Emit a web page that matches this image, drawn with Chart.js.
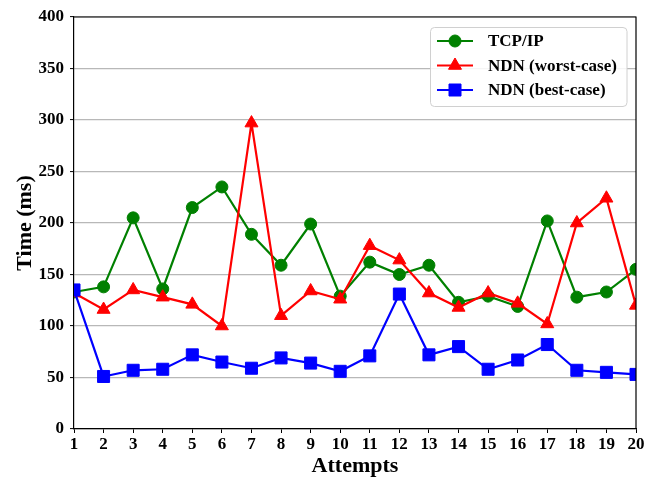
<!DOCTYPE html>
<html>
<head>
<meta charset="utf-8">
<script src="https://cdn.jsdelivr.net/npm/chart.js@4.4.0/dist/chart.umd.min.js"></script>
<style>
  html, body { margin: 0; padding: 0; background: #ffffff; }
  #wrap { width: 656px; height: 477px; position: relative; }
</style>
</head>
<body>
<div id="wrap"><canvas id="chart" width="656" height="477"></canvas></div>
<script>
// Attempt numbers along the x axis
const attempts = ['1','2','3','4','5','6','7','8','9','10','11','12','13','14','15','16','17','18','19','20'];

// Response times in ms
const tcpIp = [133, 138, 205, 136, 215, 235, 189, 159, 199, 129, 162, 150, 159, 123, 129, 119, 202, 128, 133, 155];
const ndnWorst = [132, 116, 135, 128, 121, 100, 297, 110, 134, 126, 178, 164, 132, 118, 132, 122, 102, 200, 224, 120];
const ndnBest = [135, 51, 57, 58, 72, 65, 59, 69, 64, 56, 71, 131, 72, 80, 58, 67, 82, 57, 55, 53];

// Y axis range
const yMin = 0, yMax = 400, yStep = 50;

const SERIF = '"Liberation Serif", "Times New Roman", serif';

function drawMarker(ctx, style, x, y, color) {
  ctx.save();
  ctx.fillStyle = color;
  ctx.strokeStyle = color;
  ctx.lineWidth = 1;
  ctx.beginPath();
  if (style === 'circle') {
    ctx.arc(x, y, 6, 0, Math.PI * 2);
  } else if (style === 'triangle') {
    const r = 7.5;
    ctx.moveTo(x, y - r);
    ctx.lineTo(x + r * Math.sin(2 * Math.PI / 3), y + r / 2);
    ctx.lineTo(x - r * Math.sin(2 * Math.PI / 3), y + r / 2);
    ctx.closePath();
  } else {
    ctx.rect(x - 6, y - 6, 12, 12);
  }
  ctx.fill();
  ctx.stroke();
  ctx.restore();
}

// Top/right frame lines and the boxed legend
const framePlugin = {
  id: 'frame',
  afterDatasetsDraw(chart) {
    const { ctx, chartArea: a } = chart;
    ctx.save();
    ctx.strokeStyle = '#000000';
    ctx.lineWidth = 1.2;
    ctx.beginPath();
    ctx.moveTo(a.left, a.top);
    ctx.lineTo(a.right, a.top);
    ctx.lineTo(a.right, a.bottom);
    ctx.stroke();
    ctx.restore();
  },
  afterDraw(chart) {
    const { ctx } = chart;
    const bx = 430.5, by = 27.5, bw = 196.5, bh = 79, r = 4;
    ctx.save();
    ctx.beginPath();
    ctx.moveTo(bx + r, by);
    ctx.lineTo(bx + bw - r, by);
    ctx.quadraticCurveTo(bx + bw, by, bx + bw, by + r);
    ctx.lineTo(bx + bw, by + bh - r);
    ctx.quadraticCurveTo(bx + bw, by + bh, bx + bw - r, by + bh);
    ctx.lineTo(bx + r, by + bh);
    ctx.quadraticCurveTo(bx, by + bh, bx, by + bh - r);
    ctx.lineTo(bx, by + r);
    ctx.quadraticCurveTo(bx, by, bx + r, by);
    ctx.closePath();
    ctx.fillStyle = 'rgba(255,255,255,0.85)';
    ctx.fill();
    ctx.strokeStyle = '#d0d0d0';
    ctx.lineWidth = 1;
    ctx.stroke();

    const rows = [41, 65.5, 90];
    const order = [0, 1, 2];
    order.forEach((di, i) => {
      const ds = chart.data.datasets[di];
      const y = rows[i];
      ctx.strokeStyle = ds.borderColor;
      ctx.lineWidth = 2.2;
      ctx.beginPath();
      ctx.moveTo(437, y);
      ctx.lineTo(473, y);
      ctx.stroke();
      drawMarker(ctx, ds.pointStyle, 455, y, ds.borderColor);
      ctx.fillStyle = '#000000';
      ctx.font = 'bold 17px ' + SERIF;
      ctx.textAlign = 'left';
      ctx.textBaseline = 'middle';
      ctx.fillText(ds.label, 488, y + 1);
    });
    ctx.restore();
  }
};

const common = {
  borderWidth: 2.2,
  pointBorderWidth: 1,
  tension: 0,
  fill: false,
  clip: 0
};

new Chart(document.getElementById('chart'), {
  type: 'line',
  data: {
    labels: attempts,
    datasets: [
      Object.assign({
        label: 'TCP/IP', data: tcpIp,
        borderColor: '#008000', backgroundColor: '#008000',
        pointStyle: 'circle', pointRadius: 6, pointHoverRadius: 6, order: 3
      }, common),
      Object.assign({
        label: 'NDN (worst-case)', data: ndnWorst,
        borderColor: '#ff0000', backgroundColor: '#ff0000',
        pointStyle: 'triangle', pointRadius: 7.5, pointHoverRadius: 7.5, order: 2
      }, common),
      Object.assign({
        label: 'NDN (best-case)', data: ndnBest,
        borderColor: '#0000ff', backgroundColor: '#0000ff',
        pointStyle: 'rect', pointRadius: 8.5, pointHoverRadius: 8.5, order: 1
      }, common)
    ]
  },
  options: {
    responsive: false,
    animation: false,
    devicePixelRatio: 1,
    layout: { padding: { top: 17, right: 20, left: 0, bottom: 0 } },
    plugins: {
      legend: { display: false },
      tooltip: { enabled: false }
    },
    scales: {
      x: {
        type: 'category',
        offset: false,
        grid: {
          drawOnChartArea: false,
          drawTicks: true,
          tickLength: 4,
          tickColor: '#000000',
          tickWidth: 1
        },
        border: { color: '#000000', width: 1.2 },
        ticks: {
          color: '#000000',
          font: { family: SERIF, size: 17, weight: 'bold' },
          padding: 1,
          maxRotation: 0,
          autoSkip: false
        },
        title: {
          display: true,
          text: 'Attempts',
          color: '#000000',
          font: { family: SERIF, size: 22, weight: 'bold' },
          padding: { top: 0, bottom: -3 }
        },
        afterFit(scale) { scale.height = 48; }
      },
      y: {
        min: yMin,
        max: yMax,
        grid: {
          color: '#b8b8b8',
          lineWidth: 1.2,
          tickLength: 4,
          tickColor: '#000000',
          tickWidth: 1
        },
        border: { color: '#000000', width: 1.2 },
        ticks: {
          stepSize: yStep,
          color: '#000000',
          font: { family: SERIF, size: 17, weight: 'bold' },
          padding: 6
        },
        title: {
          display: true,
          text: 'Time (ms)',
          color: '#000000',
          font: { family: SERIF, size: 22, weight: 'bold' },
          padding: { top: 12, bottom: 0 }
        },
        afterFit(scale) { scale.width = 74; }
      }
    }
  },
  plugins: [framePlugin]
});
</script>
</body>
</html>
